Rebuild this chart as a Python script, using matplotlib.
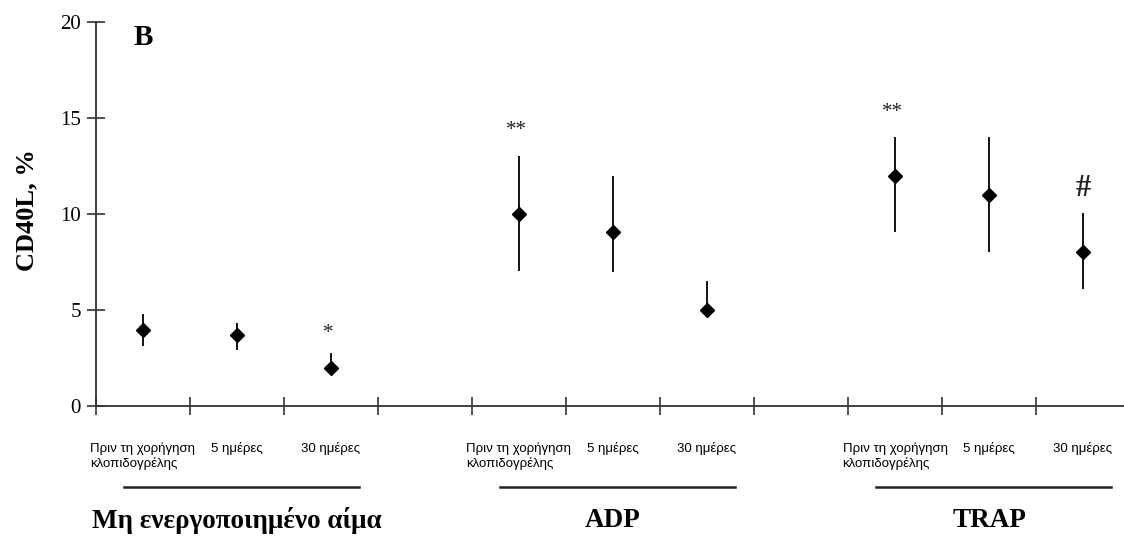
import matplotlib
matplotlib.use("Agg")
import matplotlib.pyplot as plt
import numpy as np

# CD40L expression per condition and time point (positions 3 and 7 are spacers)
positions = [0, 1, 2, 4, 5, 6, 8, 9, 10]
means = [3.95, 3.7, 2.0, 10.0, 9.05, 5.0, 12.0, 11.0, 8.0]
upper = [4.8, 4.3, 2.75, 13.0, 12.0, 6.5, 14.0, 14.0, 10.05]
lower = [3.1, 2.9, 2.0, 7.05, 7.0, 5.0, 9.05, 8.0, 6.1]

time_labels = ["Πριν τη χορήγηση\nκλοπιδογρέλης", "5 ημέρες", "30 ημέρες"]
groups = ["Μη ενεργοποιημένο αίμα", "ADP", "TRAP"]
group_starts = [0, 4, 8]

# significance marks: (x, y, text, bold)
marks = [(1.97, 3.75, "*", False), (3.97, 14.35, "**", False),
         (7.97, 15.3, "**", False), (10.0, 11.35, "#", True)]

W, H = 1124, 538
fig = plt.figure(figsize=(W / 100, H / 100), dpi=100)
ax = fig.add_axes([96 / W, (H - 406) / H, (W - 96) / W, (406 - 22) / H])

serif = "Liberation Serif"
sans = "Liberation Sans"

m = np.array(means)
yerr = [m - np.array(lower), np.array(upper) - m]
ax.errorbar(positions, means, yerr=yerr, fmt="D", color="black", ms=7.5,
            elinewidth=1.3, capsize=0, zorder=3)

ax.set_ylim(0, 20)
ax.set_xlim(-0.5, -0.5 + (W - 96) / 94)
ax.set_yticks([0, 5, 10, 15, 20])
ax.set_yticklabels(["0", "5", "10", "15", "20"], fontfamily=serif, fontsize=15)

# major ticks on category boundaries, labels on minor ticks at centres
ax.set_xticks(np.arange(-0.5, 10, 1.0))
ax.set_xticklabels([])
cats = []
for s in group_starts:
    cats += [s, s + 1, s + 2]
ax.set_xticks(cats, minor=True)
ax.set_xticklabels(time_labels * 3, minor=True, fontfamily=sans, fontsize=9.5,
                   multialignment="left", va="top")
ax.tick_params(axis="x", which="minor", length=0, pad=26)
ax.tick_params(axis="both", which="major", direction="inout", length=13,
               width=1.2, color="#333333")
ax.tick_params(axis="y", which="major", pad=4.5)

for side in ("top", "right"):
    ax.spines[side].set_visible(False)
for side in ("left", "bottom"):
    ax.spines[side].set_linewidth(1.3)
    ax.spines[side].set_color("#333333")

ax.set_ylabel("CD40L, %", fontfamily=serif, fontweight="bold", fontsize=19)
ax.yaxis.set_label_coords(-0.056, 0.51)

ax.text(0.0, 19.2, "B", fontfamily=serif, fontweight="bold", fontsize=21,
        ha="center", va="center")

for x, y, t, b in marks:
    ax.text(x, y, t, fontfamily=serif, fontsize=22 if b else 15,
            fontweight="bold" if b else "normal", ha="center", va="center",
            color="#222222")

# group brackets and names below the axis
trans = ax.get_xaxis_transform()
for s, name in zip(group_starts, groups):
    ax.plot([s - 0.2, s + 2.3], [-0.211, -0.211], color="#222222", lw=1.8,
            transform=trans, clip_on=False)
    ax.text(s + 1, -0.297, name, transform=trans, fontfamily=serif,
            fontweight="bold", fontsize=19.5, ha="center", va="center")

fig.savefig("out.png", dpi=100)
